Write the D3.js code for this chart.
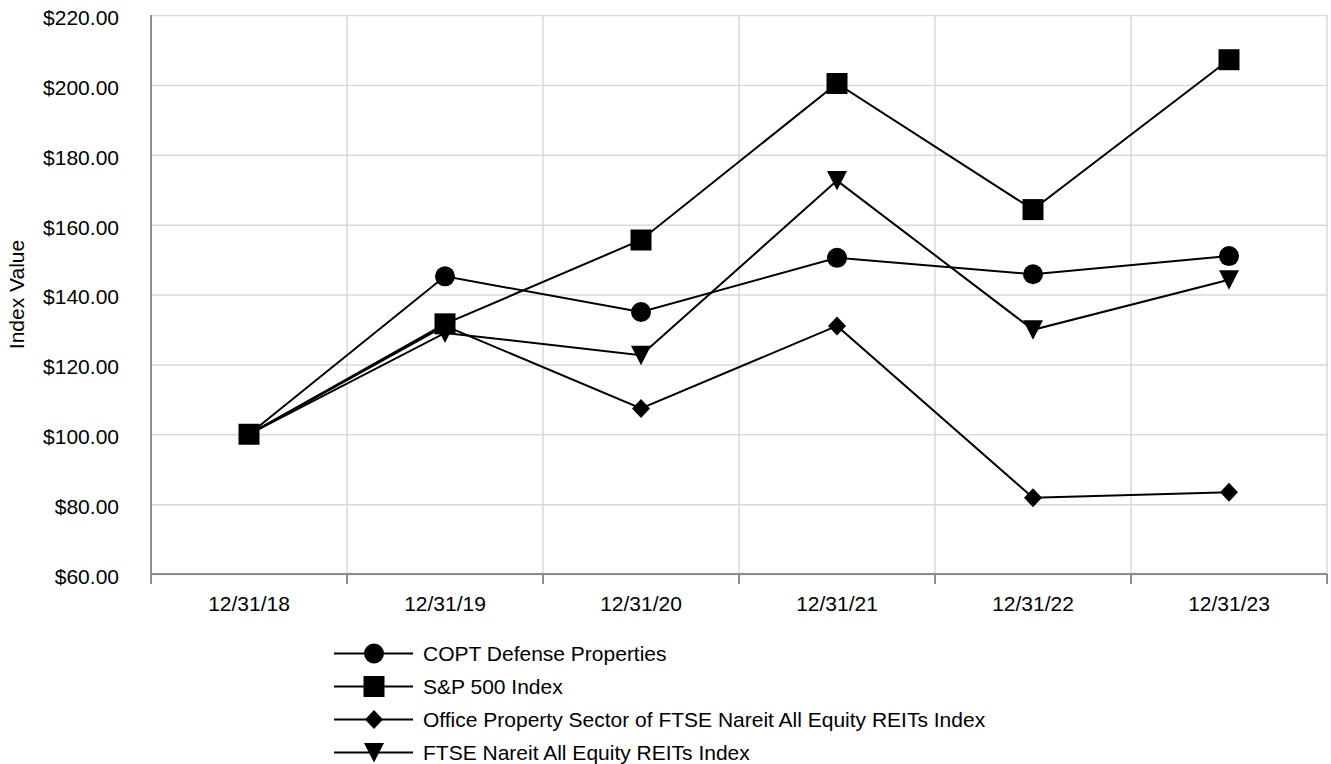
<!DOCTYPE html>
<html>
<head>
<meta charset="utf-8">
<script src="https://cdn.jsdelivr.net/npm/d3@7"></script>
<style>
    body { margin: 0; background: #fff; }
    svg { display: block; font-family: "Liberation Sans", Arial, sans-serif; }
    .grid line { stroke: #d9d9d9; stroke-width: 1.5; }
    .grid path { display: none; }
    .axis text { font-size: 21px; fill: #000; }
</style>
</head>
<body>
<script>
// Chart data
let dates = ['12/31/18', '12/31/19', '12/31/20', '12/31/21', '12/31/22', '12/31/23'],
    seriesNames = [
        'COPT Defense Properties',
        'S&P 500 Index',
        'Office Property Sector of FTSE Nareit All Equity REITs Index',
        'FTSE Nareit All Equity REITs Index'
    ],
    copt = [100, 145.2, 135.0, 150.5, 145.8, 151.0],
    sp500 = [100, 131.6, 155.6, 200.4, 164.3, 207.2],
    officeReits = [100, 131.0, 107.4, 131.0, 81.8, 83.4],
    allReits = [100, 129.0, 122.6, 172.6, 129.9, 144.2],
    yTicks = [60, 80, 100, 120, 140, 160, 180, 200, 220];

let series = [
    {name: seriesNames[0], values: copt, marker: 'circle'},
    {name: seriesNames[1], values: sp500, marker: 'square'},
    {name: seriesNames[2], values: officeReits, marker: 'diamond'},
    {name: seriesNames[3], values: allReits, marker: 'triangle'}
];

let width = 1331,
    height = 764,
    plot = {left: 151, right: 1327, top: 15, bottom: 574};

let svg = d3.select('body').append('svg')
    .attr('width', width)
    .attr('height', height);

let x = d3.scaleBand()
    .domain(dates)
    .range([plot.left, plot.right]);

let y = d3.scaleLinear()
    .domain([d3.min(yTicks), d3.max(yTicks)])
    .range([plot.bottom, plot.top]);

let cx = (d) => x(d) + x.bandwidth() / 2;

// Marker shapes, sized in pixels (size = full width)
let markers = {
    circle: {draw(ctx, s) { ctx.moveTo(s / 2, 0); ctx.arc(0, 0, s / 2, 0, 2 * Math.PI); }},
    square: {draw(ctx, s) { ctx.rect(-s / 2, -s / 2, s, s); }},
    diamond: {draw(ctx, s) {
        let h = s / 2;
        ctx.moveTo(0, -h - 0.5); ctx.lineTo(h, 0); ctx.lineTo(0, h + 0.5); ctx.lineTo(-h, 0); ctx.closePath();
    }},
    triangle: {draw(ctx, s) {
        let h = s / 2;
        ctx.moveTo(-h, -h + 0.5); ctx.lineTo(h, -h + 0.5); ctx.lineTo(0, h); ctx.closePath();
    }}
};
let markerSize = {circle: 20, square: 21, diamond: 18, triangle: 20};

let symbolPath = (m) => d3.symbol().type(markers[m]).size(markerSize[m])();

// Horizontal gridlines
svg.append('g')
    .attr('class', 'grid')
    .attr('transform', `translate(${plot.left},0)`)
    .call(d3.axisLeft(y).tickValues(yTicks).tickSize(-(plot.right - plot.left)).tickFormat(''));

// Vertical gridlines at category boundaries
let boundaries = dates.map((d) => x(d)).concat([x.range()[1]]);
svg.append('g')
    .attr('class', 'vgrid')
    .selectAll('line')
    .data(boundaries.slice(1))
    .enter().append('line')
    .attr('x1', (d) => d).attr('x2', (d) => d)
    .attr('y1', plot.top).attr('y2', plot.bottom)
    .attr('stroke', '#d9d9d9')
    .attr('stroke-width', 1.5);

// Y axis labels
let yAxis = svg.append('g')
    .attr('class', 'axis')
    .attr('transform', `translate(${plot.left},0)`)
    .call(d3.axisLeft(y).tickValues(yTicks).tickSize(0).tickPadding(32).tickFormat(d3.format('$.2f')));
yAxis.select('.domain').remove();
yAxis.selectAll('text').attr('dy', '0.45em');

// X axis labels
let xAxis = svg.append('g')
    .attr('class', 'axis')
    .attr('transform', `translate(0,${plot.bottom})`)
    .call(d3.axisBottom(x).tickSize(0).tickPadding(0));
xAxis.select('.domain').remove();
xAxis.selectAll('text').attr('y', 29).attr('dy', '0.36em');

// Axis lines and boundary ticks
svg.append('line')
    .attr('x1', plot.left).attr('x2', plot.left)
    .attr('y1', plot.top).attr('y2', plot.bottom)
    .attr('stroke', '#8c8c8c').attr('stroke-width', 2);
svg.append('line')
    .attr('x1', plot.left).attr('x2', plot.right)
    .attr('y1', plot.bottom).attr('y2', plot.bottom)
    .attr('stroke', '#8c8c8c').attr('stroke-width', 2);
svg.append('g')
    .selectAll('line')
    .data(boundaries)
    .enter().append('line')
    .attr('x1', (d) => d).attr('x2', (d) => d)
    .attr('y1', plot.bottom).attr('y2', plot.bottom + 10)
    .attr('stroke', '#8c8c8c').attr('stroke-width', 2);

// Axis title
svg.append('text')
    .attr('transform', `translate(17,${(plot.top + plot.bottom) / 2}) rotate(-90)`)
    .attr('text-anchor', 'middle')
    .attr('dy', '0.35em')
    .attr('font-size', '21px')
    .text('Index Value');

// Lines and markers
let line = d3.line()
    .x((d, i) => cx(dates[i]))
    .y((d) => y(d));

series.forEach((s) => {
    svg.append('path')
        .attr('d', line(s.values))
        .attr('fill', 'none')
        .attr('stroke', '#000')
        .attr('stroke-width', 2);
});

series.forEach((s) => {
    svg.append('g')
        .selectAll('path')
        .data(s.values)
        .enter().append('path')
        .attr('d', symbolPath(s.marker))
        .attr('transform', (d, i) => `translate(${cx(dates[i])},${y(d)})`)
        .attr('fill', '#000');
});

// Legend
let legend = svg.append('g')
    .attr('class', 'legend')
    .selectAll('g')
    .data(series)
    .enter().append('g')
    .attr('transform', (d, i) => `translate(374,${653.5 + i * 33})`);

legend.append('line')
    .attr('x1', -40).attr('x2', 39)
    .attr('stroke', '#000').attr('stroke-width', 2);
legend.append('path')
    .attr('d', (d) => symbolPath(d.marker))
    .attr('fill', '#000');
legend.append('text')
    .attr('x', 49)
    .attr('dy', '0.36em')
    .attr('font-size', '21px')
    .text((d) => d.name);
</script>
</body>
</html>
